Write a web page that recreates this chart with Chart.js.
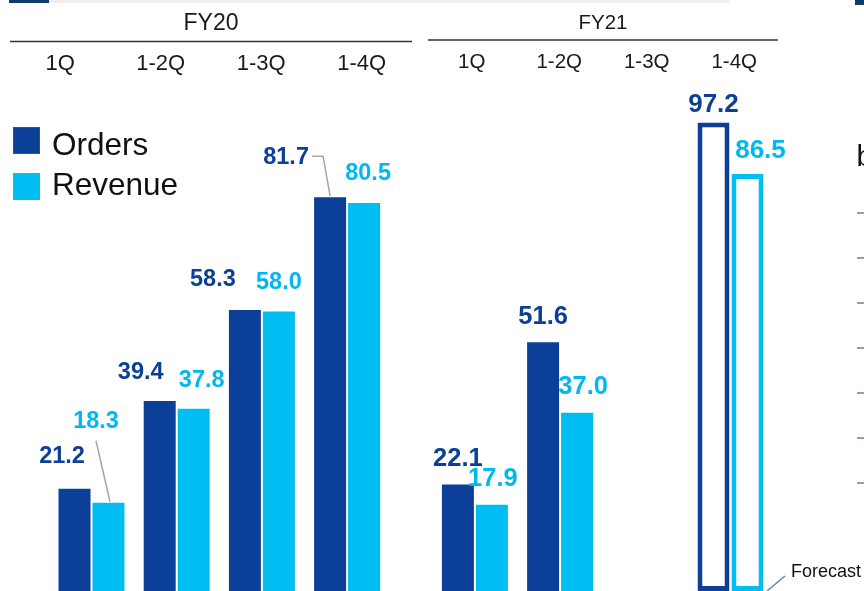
<!DOCTYPE html>
<html>
<head>
<meta charset="utf-8">
<title>Orders and Revenue</title>
<script src="https://cdn.jsdelivr.net/npm/chart.js@4.4.1/dist/chart.umd.min.js"></script>
<style>
  html, body { margin: 0; padding: 0; background: #ffffff; }
</style>
</head>
<body>
<canvas id="chart" width="864" height="591"></canvas>
<script>
"use strict";

const fiscalYears = ["FY20", "FY21"];
const periods = ["1Q", "1-2Q", "1-3Q", "1-4Q"];
const ordersFY20 = [21.2, 39.4, 58.3, 81.7];
const revenueFY20 = [18.3, 37.8, 58.0, 80.5];
const ordersFY21 = [22.1, 51.6, null, 97.2];
const revenueFY21 = [17.9, 37.0, null, 86.5];
const forecastFY21 = [false, false, false, true];
const forecastNote = "Forecast";
const sideHeading = "b";

const ORDERS_COLOR = "#0c3f97";
const REVENUE_COLOR = "#00bdf2";
const FONT = '"Liberation Sans", Arial, sans-serif';

// one slot per period, half a slot of air between the fiscal years
const toPoints = (perYear) =>
  perYear
    .flatMap((values, f) =>
      values.map((v, i) => ({
        x: f * (periods.length + 0.5) + i,
        y: v,
        slot: f * periods.length + i,
        year: f,
        forecast: f === 1 && forecastFY21[i],
      }))
    )
    .filter((p) => p.y !== null);

// where each value label sits relative to the top centre of its bar
const labelOffsets = {
  Orders: [[-12.5, -32], [-19, -29], [-32, -30], [-44, -40], [0, -25], [0, -25], null, [0, -18]],
  Revenue: [[-12.5, -81], [8, -28], [0, -29], [4, -29], [1, -26], [6, -26], null, [13, -23]],
};
const leaderLines = {
  Orders: { 3: [[-18, -41], [-7, -41], [0, -1]] },
  Revenue: { 0: [[-12.5, -62], [1.5, -1]] },
};
const labelSizes = [23.5, 25.5];

const headerSpans = [
  { from: 10, to: 412, lineY: 41.5, titleY: 23.5, labelY: 63.5, titleSize: 23, labelSize: 22 },
  { from: 428, to: 778, lineY: 40, titleY: 23, labelY: 62, titleSize: 20.5, labelSize: 20.5 },
];

const slideDecor = {
  id: "slideDecor",
  afterDatasetsDraw(chart) {
    const ctx = chart.ctx;
    ctx.save();
    chart.data.datasets.forEach((ds, d) => {
      const meta = chart.getDatasetMeta(d);
      meta.data.forEach((bar, i) => {
        const raw = ds.data[i];
        const off = labelOffsets[ds.label][raw.slot];
        const line = leaderLines[ds.label][raw.slot];
        if (line) {
          ctx.strokeStyle = "#a6a6a6";
          ctx.lineWidth = 1.5;
          ctx.beginPath();
          line.forEach(([dx, dy], k) => {
            if (k === 0) ctx.moveTo(bar.x + dx, bar.y + dy);
            else ctx.lineTo(bar.x + dx, bar.y + dy);
          });
          ctx.stroke();
        }
        const size = raw.forecast ? 26 : labelSizes[raw.year];
        ctx.font = `bold ${size}px ${FONT}`;
        ctx.fillStyle = ds.label === "Orders" ? ORDERS_COLOR : "#00b8f0";
        ctx.textAlign = "center";
        ctx.textBaseline = "middle";
        ctx.fillText(raw.y.toFixed(1), bar.x + off[0], bar.y + off[1]);

        if (raw.forecast && ds.label === "Revenue") {
          const bottom = chart.chartArea.bottom;
          const sx = bar.x + bar.width / 2 + 3.5;
          ctx.strokeStyle = "#4f7fc0";
          ctx.lineWidth = 1.3;
          ctx.beginPath();
          ctx.moveTo(sx, bottom);
          ctx.lineTo(sx + 18, bottom - 15);
          ctx.stroke();
          ctx.font = `18px ${FONT}`;
          ctx.fillStyle = "#111111";
          ctx.textAlign = "left";
          ctx.fillText(forecastNote, sx + 24, bottom - 19);
        }
      });
    });
    ctx.restore();
  },
  afterDraw(chart) {
    const ctx = chart.ctx;
    ctx.save();

    // strip along the top edge
    ctx.fillStyle = "#efefef";
    ctx.fillRect(49, 0, 681, 3);
    ctx.fillStyle = "#0f3a6c";
    ctx.fillRect(9, 0, 40, 3);
    ctx.fillRect(855, 0, 9, 5);

    // fiscal year header with period columns
    ctx.fillStyle = "#1a1a1a";
    ctx.textAlign = "center";
    ctx.textBaseline = "middle";
    headerSpans.forEach((h, f) => {
      ctx.strokeStyle = "#333333";
      ctx.lineWidth = 1.4;
      ctx.beginPath();
      ctx.moveTo(h.from, h.lineY);
      ctx.lineTo(h.to, h.lineY);
      ctx.stroke();
      ctx.font = `${h.titleSize}px ${FONT}`;
      ctx.fillText(fiscalYears[f], (h.from + h.to) / 2, h.titleY);
      ctx.font = `${h.labelSize}px ${FONT}`;
      const step = (h.to - h.from) / periods.length;
      periods.forEach((p, i) => {
        ctx.fillText(p, h.from + (i + 0.5) * step, h.labelY);
      });
    });

    // legend
    const legendRows = [
      { y: 127, textY: 146.5, color: ORDERS_COLOR, edge: "#34528a" },
      { y: 173, textY: 186, color: REVENUE_COLOR, edge: REVENUE_COLOR },
    ];
    chart.data.datasets.forEach((ds, d) => {
      const row = legendRows[d];
      ctx.fillStyle = row.color;
      ctx.fillRect(13, row.y, 27, 27);
      ctx.strokeStyle = row.edge;
      ctx.lineWidth = 1;
      ctx.strokeRect(13.5, row.y + 0.5, 26, 26);
      ctx.fillStyle = "#111111";
      ctx.font = `31.5px ${FONT}`;
      ctx.textAlign = "left";
      ctx.fillText(ds.label, 52, row.textY);
    });

    // neighbouring panel cut off at the right edge
    ctx.font = `29px ${FONT}`;
    ctx.textBaseline = "alphabetic";
    ctx.fillText(sideHeading, 856.5, 166);
    ctx.strokeStyle = "#4a5f80";
    ctx.lineWidth = 1.2;
    [213, 258, 303, 348, 393, 438, 483].forEach((y) => {
      ctx.beginPath();
      ctx.moveTo(857, y);
      ctx.lineTo(864, y);
      ctx.stroke();
    });
    ctx.restore();
  },
};

const barStyle = (color) => ({
  backgroundColor: (c) => (c.raw && c.raw.forecast ? "#ffffff" : color),
  borderColor: color,
  borderWidth: (c) => (c.raw && c.raw.forecast ? 5 : 0),
  borderSkipped: false,
  categoryPercentage: 0.798,
  barPercentage: 0.941,
});

new Chart(document.getElementById("chart"), {
  type: "bar",
  data: {
    datasets: [
      { label: "Orders", data: toPoints([ordersFY20, ordersFY21]), ...barStyle(ORDERS_COLOR) },
      { label: "Revenue", data: toPoints([revenueFY20, revenueFY21]), ...barStyle(REVENUE_COLOR) },
    ],
  },
  options: {
    responsive: false,
    animation: false,
    devicePixelRatio: 1,
    layout: { padding: 0 },
    scales: {
      x: {
        type: "linear",
        display: false,
        min: -1.0739,
        max: 9.0669,
        afterBuildTicks: (axis) => {
          axis.ticks = [];
        },
      },
      y: { display: false, min: 0, max: 122.6 },
    },
    plugins: {
      legend: { display: false },
      tooltip: { enabled: false },
    },
  },
  plugins: [slideDecor],
});
</script>
</body>
</html>
